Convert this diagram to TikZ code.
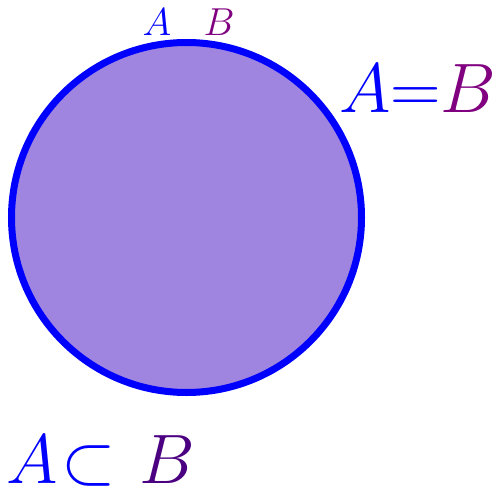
\RequirePackage{fix-cm}
\documentclass[tikz,border=0pt]{standalone}
\usepackage{amsmath}
\definecolor{fillc}{RGB}{160,133,224}
\definecolor{indig}{RGB}{75,0,130}
\definecolor{purp}{RGB}{128,0,128}
\tikzset{lbl/.style={inner sep=0pt,outer sep=0pt}}
\begin{document}
\begin{tikzpicture}[x=1pt,y=1pt]
\useasboundingbox (0,0) rectangle (500,488);
\node[circle,draw=blue,line width=7pt,fill=fillc,minimum size=350pt,inner sep=0pt,outer sep=0pt] (c) at (186.5,270.5) {};
\node[lbl,text=blue] (ta) at (157,466) {\fontsize{39}{44}\selectfont$A$};
\node[lbl,text=purp] (tb) at (219,466) {\fontsize{39}{44}\selectfont$B$};
\node[lbl,anchor=base west] (eq) at (339,375) {\fontsize{70}{80}\selectfont$\color{blue}A{=}\color{purp}B$};
\node[lbl,anchor=base west] (sub) at (6,5) {\fontsize{70}{80}\selectfont$\color{blue}A\mkern1mu{\subset}\mkern1mu\;\color{indig}B$};
\end{tikzpicture}
\end{document}
